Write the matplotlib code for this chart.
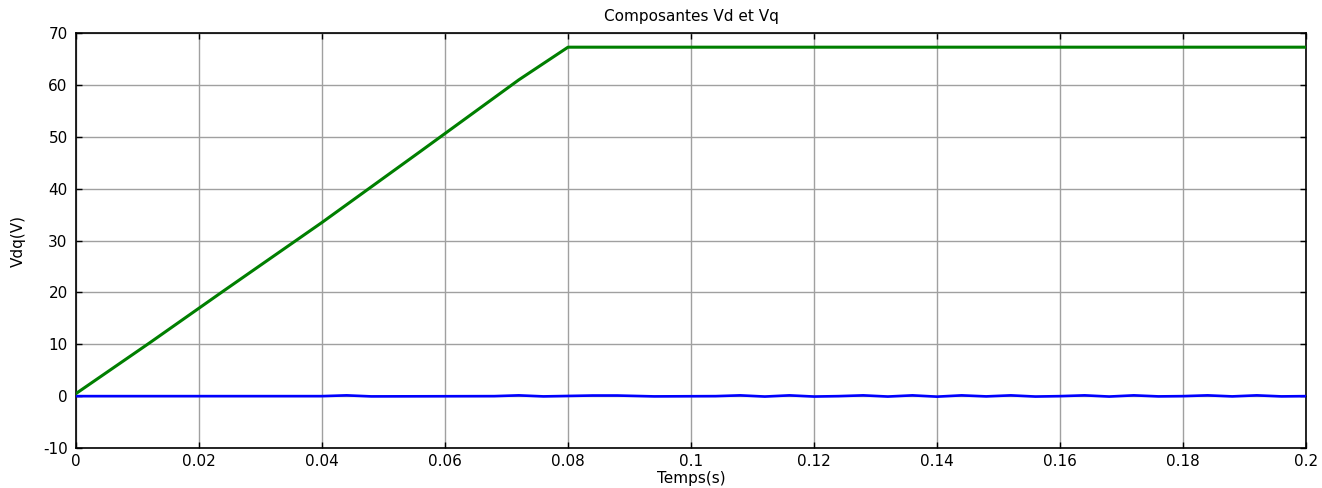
import matplotlib
matplotlib.use("Agg")
import matplotlib.pyplot as plt

plt.rcParams['font.family'] = ['DejaVu Sans']
plt.rcParams['axes.unicode_minus'] = False

# Vd ramp then plateau (breakpoints of the trace)
t_vd = [0.0, 0.012, 0.024, 0.04, 0.056, 0.072, 0.08, 0.2]
vd = [0.5, 10.3, 20.3, 33.5, 47.2, 61.0, 67.3, 67.3]

# Vq stays near zero with a small ripple
t_vq = [0.0, 0.040, 0.044, 0.048, 0.068, 0.072, 0.076, 0.084, 0.088, 0.094,
        0.104, 0.108, 0.112, 0.116, 0.120, 0.124, 0.128, 0.132, 0.136, 0.140,
        0.144, 0.148, 0.152, 0.156, 0.160, 0.164, 0.168, 0.172, 0.176, 0.180,
        0.184, 0.188, 0.192, 0.196, 0.2]
vq = [0.0, 0.0, 0.15, -0.05, 0.0, 0.15, -0.05, 0.12, 0.12, -0.05,
      0.0, 0.15, -0.08, 0.15, -0.08, 0.0, 0.15, -0.08, 0.15, -0.1,
      0.15, -0.05, 0.15, -0.08, 0.0, 0.15, -0.08, 0.15, -0.05, 0.0,
      0.15, -0.05, 0.15, -0.05, 0.0]

x_ticks = [0, 0.02, 0.04, 0.06, 0.08, 0.1, 0.12, 0.14, 0.16, 0.18, 0.2]
x_labels = ['0', '0.02', '0.04', '0.06', '0.08', '0.1', '0.12', '0.14', '0.16', '0.18', '0.2']
y_ticks = [-10, 0, 10, 20, 30, 40, 50, 60, 70]

fig = plt.figure(figsize=(13.22, 4.88), dpi=100)
ax = fig.add_axes([0.0575, 0.082, 0.9304, 0.850])

ax.plot(t_vq, vq, color='#0000ff', lw=1.9, zorder=3)
ax.plot(t_vd, vd, color='#007f00', lw=2.2, zorder=4)

ax.set_xlim(0, 0.2)
ax.set_ylim(-10, 70)
ax.set_xticks(x_ticks)
ax.set_xticklabels(x_labels)
ax.set_yticks(y_ticks)
ax.grid(True, color='#a0a0a0', lw=1.0, ls='-')
ax.set_axisbelow(True)
ax.tick_params(direction='in', top=True, right=True, length=4, width=1,
               labelsize=11, pad=4)
ax.tick_params(axis='y', pad=6)
for sp in ax.spines.values():
    sp.set_linewidth(1.2)
    sp.set_color('black')

ax.set_title('Composantes Vd et Vq', fontsize=11, pad=9)
ax.set_xlabel('Temps(s)', fontsize=11, labelpad=2)
ax.set_ylabel('Vdq(V)', fontsize=11, labelpad=12)

fig.savefig('out.png', dpi=100, facecolor='white')
